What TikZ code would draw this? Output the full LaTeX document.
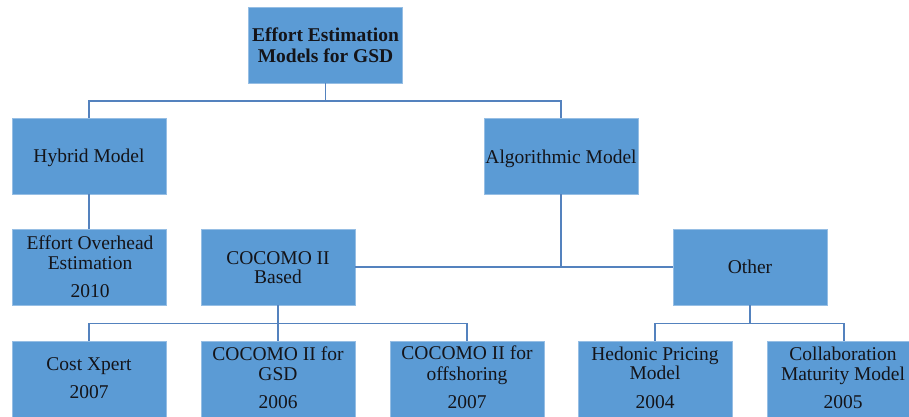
\documentclass[tikz,border=0pt]{standalone}
\usepackage{fontspec}
\setmainfont{Liberation Serif}
\definecolor{boxfill}{RGB}{91,155,213}
\definecolor{boxedge}{RGB}{150,190,228}
\definecolor{linecol}{RGB}{84,130,190}
\definecolor{txtcol}{RGB}{20,20,25}
\tikzset{
  box/.style={rectangle, fill=boxfill, draw=boxedge, line width=0.6pt, minimum width=154pt, minimum height=76pt, inner sep=0pt},
  conn/.style={draw=linecol, line width=1.6pt},
  txt/.style={anchor=base, inner sep=0pt, text=txtcol, font=\fontsize{19.5pt}{20pt}\selectfont},
  btxt/.style={txt, font=\fontsize{19.5pt}{20pt}\selectfont\bfseries}
}
\begin{document}
\begin{tikzpicture}[x=1pt,y=-1pt]
\useasboundingbox (0,0) rectangle (909,416);
% boxes
\node[box] (top) at (325.5,45) {};
\node[box] (hyb) at (89,156) {};
\node[box] (alg) at (561,156) {};
\node[box] (eo) at (89,267) {};
\node[box] (cb) at (278,267) {};
\node[box] (oth) at (750,267) {};
\node[box] (cx) at (89,379) {};
\node[box] (gsd) at (278,379) {};
\node[box] (off) at (467,379) {};
\node[box] (hed) at (655,379) {};
\node[box] (col) at (844,379) {};
% connectors
\draw[conn] (top.south) -- (top.south |- 0,101);
\draw[conn] (hyb.north) -- (hyb.north |- 0,101) -| (alg.north);
\draw[conn] (hyb.south) -- (eo.north);
\draw[conn] (alg.south) -- (alg.south |- cb.east);
\draw[conn] (cb.east) -- (oth.west);
\draw[conn] (cb.south) -- (gsd.north);
\draw[conn] (cx.north) -- (cx.north |- 0,323.5) -| (off.north);
\draw[conn] (oth.south) -- (oth.south |- 0,323.5);
\draw[conn] (hed.north) -- (hed.north |- 0,323.5) -| (col.north);
% texts
\node[btxt] (t1a) at (325.5,41) {Effort Estimation};
\node[btxt] (t1b) at (325.5,62.5) {Models for GSD};
\node[txt] (t2) at (89,162) {Hybrid Model};
\node[txt] (t3) at (561,163) {Algorithmic Model};
\node[txt] (t4a) at (90,249) {Effort Overhead};
\node[txt] (t4b) at (90,269) {Estimation};
\node[txt] (t4c) at (90,297) {2010};
\node[txt] (t5a) at (278,264) {COCOMO II};
\node[txt] (t5b) at (278,283) {Based};
\node[txt] (t6) at (750,273) {Other};
\node[txt] (t7a) at (89,370) {Cost Xpert};
\node[txt] (t7b) at (89,398) {2007};
\node[txt] (t8a) at (278,360) {COCOMO II for};
\node[txt] (t8b) at (278,380) {GSD};
\node[txt] (t8c) at (278,408) {2006};
\node[txt] (t9a) at (467,359.5) {COCOMO II for};
\node[txt] (t9b) at (467,380) {offshoring};
\node[txt] (t9c) at (467,408) {2007};
\node[txt] (t10a) at (655,360) {Hedonic Pricing};
\node[txt] (t10b) at (655,379) {Model};
\node[txt] (t10c) at (655,408) {2004};
\node[txt] (t11a) at (843,360) {Collaboration};
\node[txt] (t11b) at (843,380) {Maturity Model};
\node[txt] (t11c) at (843,408) {2005};
\end{tikzpicture}
\end{document}
